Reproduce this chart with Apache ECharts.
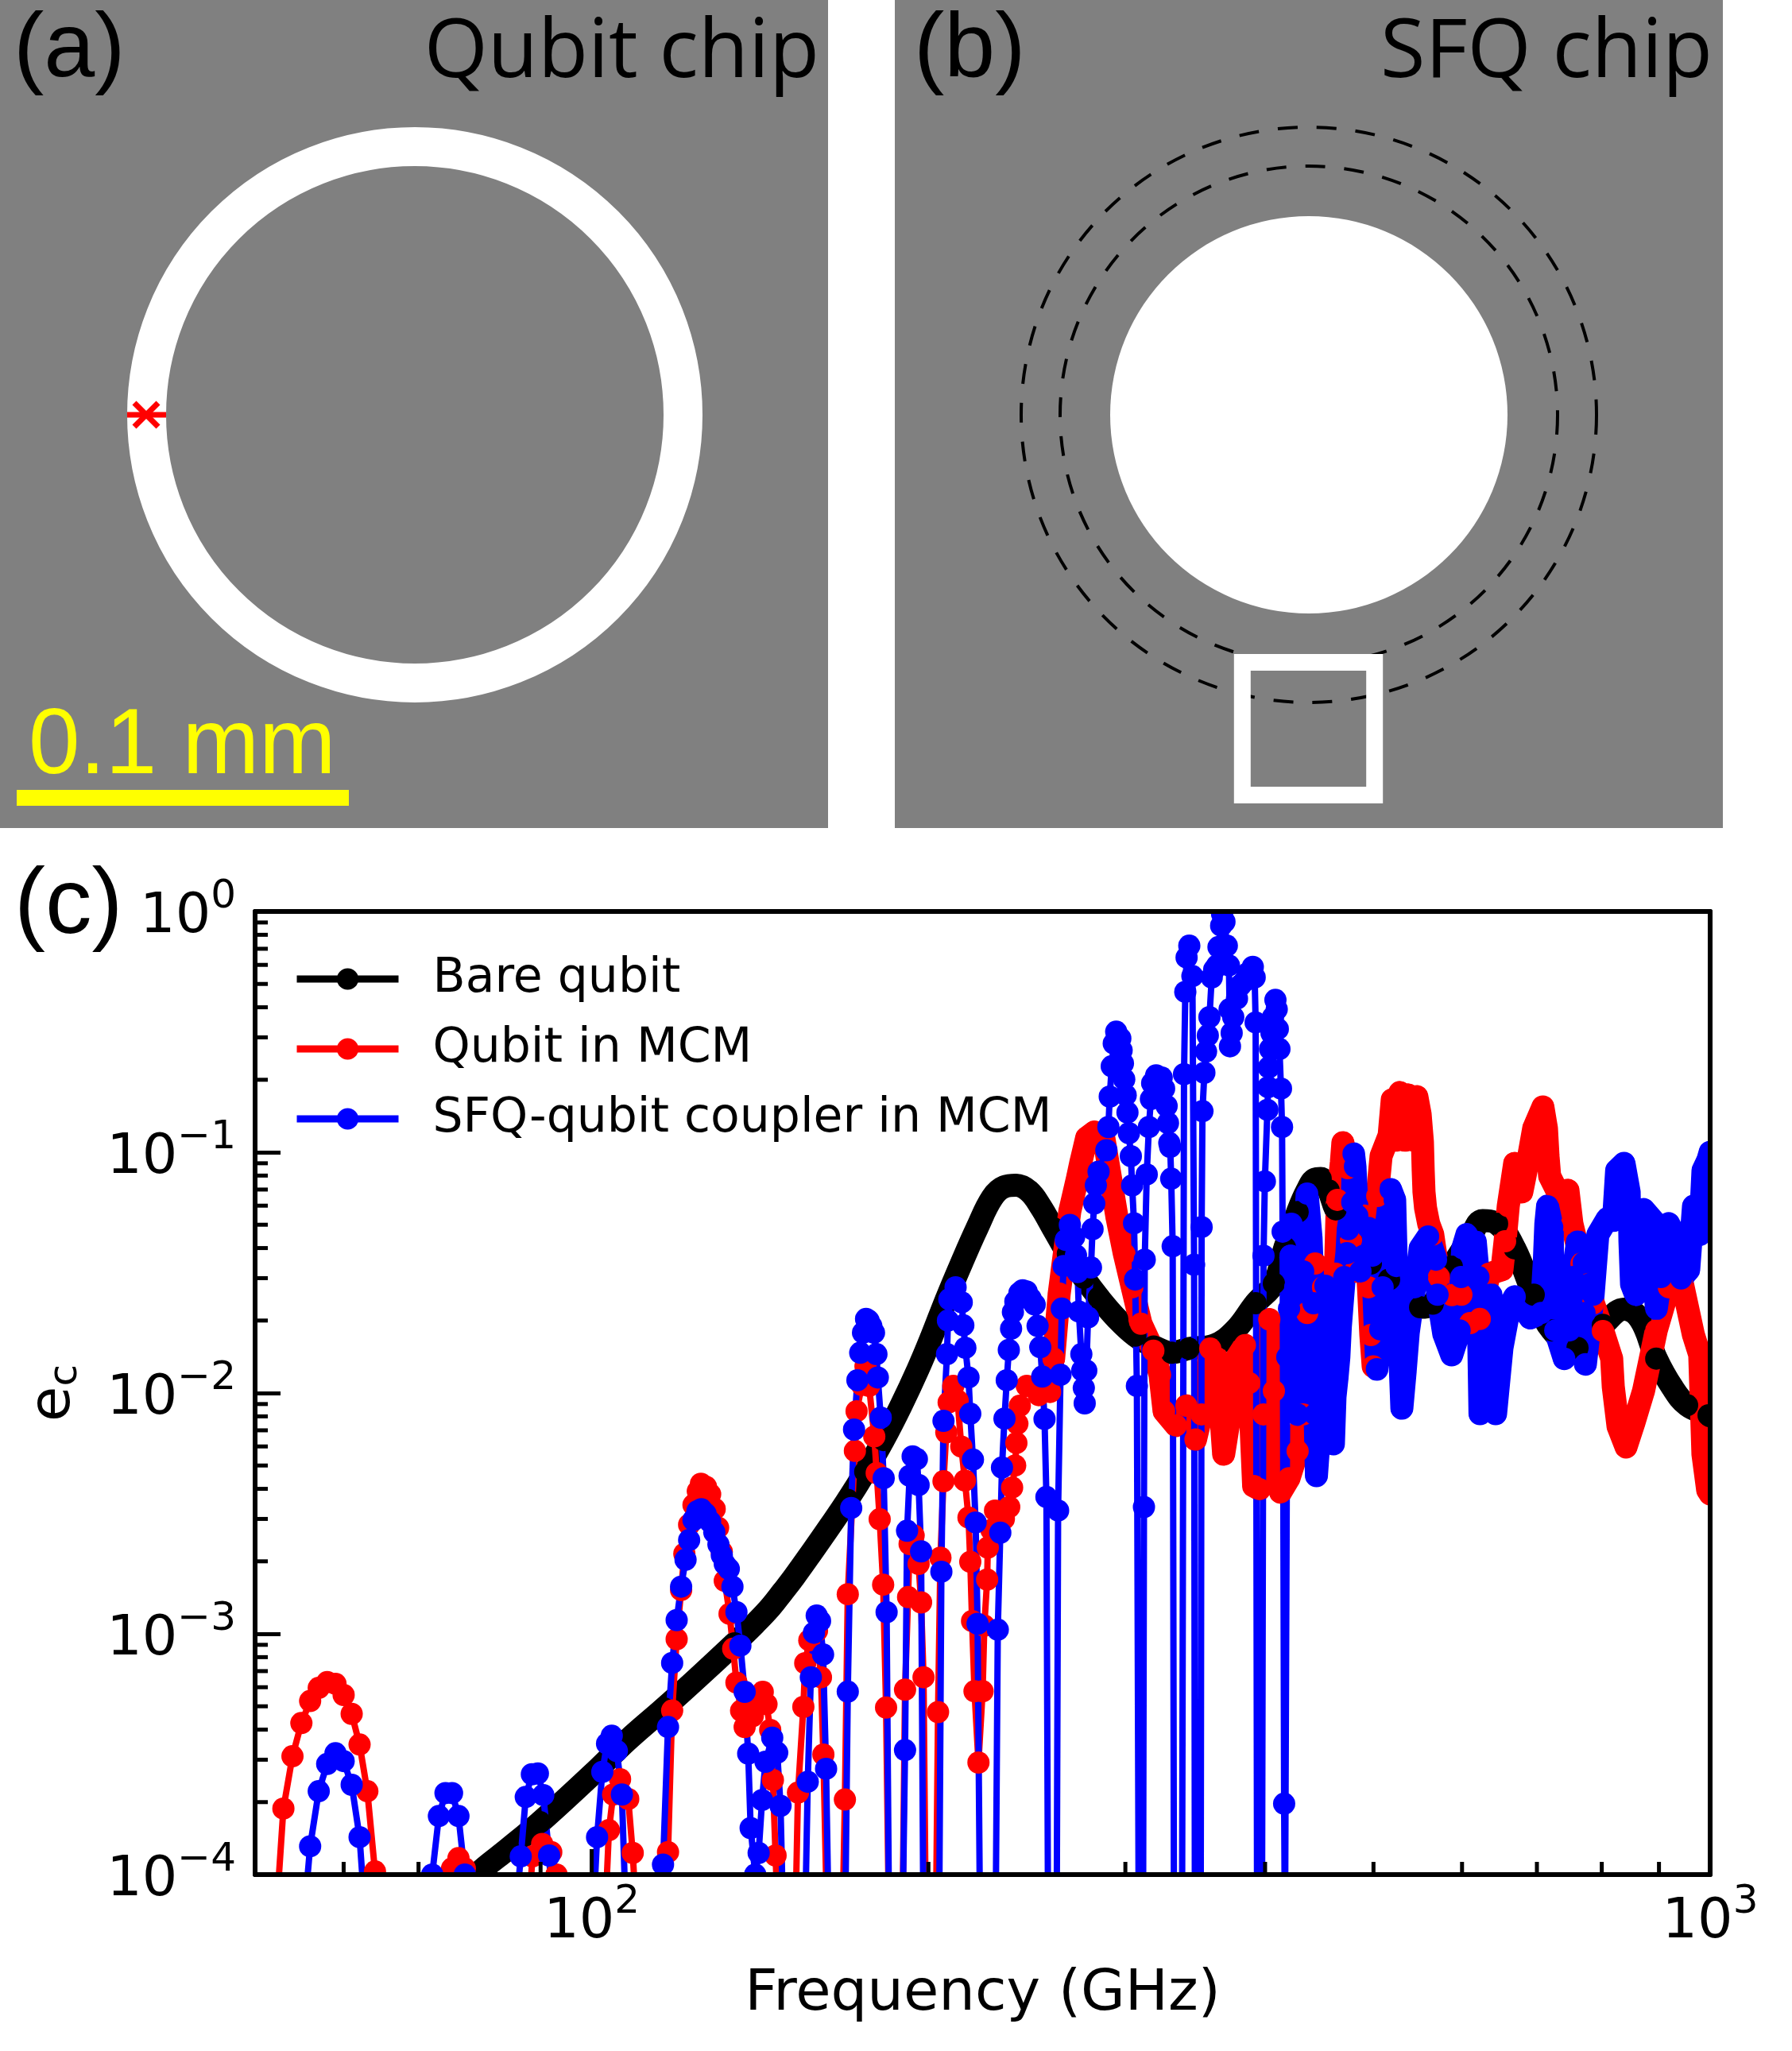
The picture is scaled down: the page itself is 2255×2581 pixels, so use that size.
<!DOCTYPE html>
<html><head><meta charset="utf-8"><title>chart</title>
<style>html,body{margin:0;padding:0;background:#fff}#c{width:2255px;height:2581px}</style>
<script src="https://cdn.jsdelivr.net/npm/echarts@6/dist/echarts.min.js"></script>
</head><body><div id="c"></div>
<script>
const seriesNames = ['Bare qubit','Qubit in MCM','SFQ-qubit coupler in MCM'];
const xMinorTicks = [60,70,80,90,200,300,400,500,600,700,800,900];
const yMinorTicks = [2e-4,3e-4,4e-4,5e-4,6e-4,7e-4,8e-4,9e-4,2e-3,3e-3,4e-3,5e-3,6e-3,7e-3,8e-3,9e-3,2e-2,3e-2,4e-2,5e-2,6e-2,7e-2,8e-2,9e-2,.2,.3,.4,.5,.6,.7,.8,.9];

const bareQubit = [[77.6,9.2e-5],[78.9,1e-4],[80.4,1.08e-4],[84.2,1.28e-4],[89.9,1.65e-4],[100.2,2.62e-4],[107.6,3.61e-4],[116,4.9e-4],[124.7,6.64e-4],[134.2,9.12e-4],[139.9,1.1e-3],[144.5,1.29e-3],[148.1,1.49e-3],[151.8,1.73e-3],[157.4,2.19e-3],[163.4,2.81e-3],[169.4,3.6e-3],[175.6,4.71e-3],[182.3,6.38e-3],[189,8.85e-3],[195.9,1.265e-2],[201.2,1.7e-2],[207.5,2.45e-2],[214.2,3.48e-2],[221.1,4.85e-2],[228.1,6.48e-2],[233.8,7.18e-2],[239.5,7.29e-2],[246,6.89e-2],[252,5.94e-2],[258.4,4.85e-2],[266.5,3.78e-2],[275.4,3.01e-2],[284,2.49e-2],[295,2.03e-2],[306.3,1.73e-2],[318,1.56e-2],[330,1.47e-2],[341.8,1.53e-2],[360.2,1.58e-2],[376.4,1.83e-2],[392.3,2.36e-2],[407.3,2.85e-2],[416.7,4.02e-2],[427.7,5.65e-2],[436.2,6.95e-2],[443.4,7.73e-2],[448.5,7.78e-2],[455.9,6.95e-2],[462.6,5.79e-2],[477.4,4.5e-2],[497.3,3.45e-2],[516.3,2.96e-2],[550.4,2.27e-2],[564.9,2.35e-2],[587.5,3.35e-2],[610,4.4e-2],[626,5.2e-2],[644.9,5.05e-2],[668.6,3.99e-2],[695.4,2.56e-2],[722.1,1.82e-2],[761,1.54e-2],[801.8,1.92e-2],[838,2.23e-2],[866,2.02e-2],[895,1.39e-2],[924.6,1.06e-2],[953.7,8.9e-3],[996.8,8.09e-3],[1000,8e-3]];

const qubitMcmSparse = [[52,5e-5],[53,1.88e-4],[54,3.1e-4],[55,4.26e-4],[56,5.26e-4],[57,5.96e-4],[58,6.3e-4],[59,6.2e-4],[60,5.57e-4],[61,4.65e-4],[62,3.47e-4],[63,2.22e-4],[64,1.03e-4],[65,5e-5],
[74,5e-5],[75,1.06e-4],[76,1.17e-4],[77,1.06e-4],[78,5e-5],
[87.5,5e-5],[88.5,1.19e-4],[90.3,1.34e-4],[92,1.24e-4],[93,1e-4],[94,5e-5],
[102.5,5e-5],[103.6,1.53e-4],[104.5,2.15e-4],[106,2.49e-4],[107.8,2.06e-4],[108.8,1.23e-4],[110,5e-5],
[116,5e-5],[117,1.24e-4],[118,4.8e-4],[119.1,9.5e-4],[120.2,1.52e-3],[121,2.15e-3],[122.2,2.84e-3],[123.3,3.43e-3],[124.4,3.91e-3],[125.2,4.2e-3],[126.5,4.08e-3],[127.6,3.8e-3],[128.8,3.3e-3],[129.7,2.76e-3],[130.7,2.19e-3],[131.5,1.66e-3],[132.8,1.21e-3],[133.8,8.67e-4],[134.7,6.27e-4],[136,4.79e-4],[137,4.1e-4],[139.3,4.55e-4],[140.5,5.41e-4],[142.2,5.74e-4],[143.3,5.1e-4],[144.4,3.99e-4],[145.2,2.47e-4],[146,1.2e-4],[147,5e-5],
[151.9,5e-5],[152.9,2.19e-4],[154.6,4.97e-4],[155.2,7.55e-4],[156.5,9.4e-4],[159,1.03e-3],[160.3,6.6e-4],[161.1,3.15e-4],[162.5,5e-5],
[167.4,5e-5],[168.4,2.05e-4],[169.4,1.46e-3],[171.9,5.75e-3],[172.5,8.4e-3],[174.4,1.08e-2],[175.7,1.29e-2],[177,1.07e-2],[178.9,6.6e-3],[179.8,4.65e-3],[180.9,2.99e-3],[182.2,1.6e-3],[183.3,4.94e-4],[184.5,5e-5],
[189.5,5e-5],[190.6,5.86e-4],[191.8,1.42e-3],[192.4,2.36e-3],[194,2.56e-3],[196,1.95e-3],[197,1.35e-3],[198,6.6e-4],[199,5e-5],
[203,5e-5],[204,4.73e-4],[205,2.07e-3],[206.3,4.3e-3],[207.5,6.86e-3],[208.5,9.14e-3],[210.5,1.07e-2],[212.4,9.3e-3],[214,5.99e-3],[215.6,4.33e-3],[217.2,3.04e-3],[218,1.99e-3],[218.8,1.13e-3],[219.9,5.77e-4],[221.7,2.92e-4],[223.6,5.77e-4],[224.4,1.08e-3],[225.7,1.68e-3],[226,2.28e-3],[227.7,2.7e-3],[229.4,3.25e-3],[233.6,3e-3],[236.2,3.36e-3],[237.6,4.05e-3],[239.1,5e-3],[239.7,6.2e-3],[240.2,7.46e-3],[241.4,8.85e-3],[244.9,1.07e-2],[251,9.8e-3],[256.9,1.01e-2],[258.8,1.39e-2]];

const qubitMcmBand = [[258.8,1.39e-2],[261.8,2.59e-2],[267.6,5.7e-2],[271.9,7.84e-2],[273.7,9.06e-2],[277,.1146],[281.4,.1213],[286.7,.1178],[290.3,8.33e-2],[294.9,5.36e-2],[299.4,3.78e-2],[304.3,2.75e-2],[309.8,1.94e-2],[317.8,1.5e-2],[322.2,1.19e-2],[324.9,8.4e-3],[333,7.33e-3],[340.2,8.85e-3],[346.6,6.41e-3],[350.9,8.15e-3],[357.3,1.53e-2],[361.9,1.4e-2],[364.3,9.48e-3],[367.3,5.57e-3],[372.1,8.15e-3],[377,1.39e-2],[383.7,1.58e-2],[387.1,1.1e-2],[390.7,4.11e-3],[395.4,3.99e-3],[398.7,8.15e-3],[403.5,2.02e-2],[407.3,1.02e-2],[413,3.87e-3],[420.2,4.43e-3],[427.7,5.74e-3],[432.6,8.15e-3],[436.2,2.15e-2],[443.4,3.45e-2],[450.7,2.75e-2],[462.3,3.13e-2],[464.2,6.34e-2],[468,9.06e-2],[469.5,.1096],[474.1,8.59e-2],[477.4,4.33e-2],[481.3,3.2e-2],[490.6,5.45e-2],[494.9,2.75e-2],[497.3,1.74e-2],[499.7,1.29e-2],[503.9,6.58e-2],[507.9,9.64e-2],[516.4,.1175],[519.7,.1652],[524.1,.1122],[527.9,.177],[533.6,.1122],[537,.173],[542.2,.1122],[546.7,.1702],[550.4,.1439],[553,.1104],[553.9,8.39e-2],[554.8,6.84e-2],[556.6,5.87e-2],[560.2,5.05e-2],[564.9,4.55e-2],[572.2,3.03e-2],[587.5,2.55e-2],[599.2,2.56e-2],[610,1.95e-2],[622.3,2.03e-2],[634.5,3.13e-2],[651.4,3.25e-2],[655.6,4.27e-2],[659.9,5.97e-2],[668.7,8.99e-2],[678.6,6.84e-2],[685.3,8.59e-2],[695.4,.1256],[708.7,.1542],[713.9,.1256],[716.2,9.64e-2],[718.6,7.96e-2],[730.4,6.84e-2],[746.2,6.95e-2],[752.3,5.05e-2],[767.3,3.45e-2],[786.3,2.36e-2],[801.8,1.81e-2],[816.5,1.39e-2],[819.2,1.06e-2],[827.3,7.27e-3],[841,5.97e-3],[854.9,7.55e-3],[871.8,1.02e-2],[895,1.82e-2],[918.6,2.75e-2],[942.8,2.96e-2],[966,1.75e-2],[978.8,1.44e-2],[985.3,5.57e-3],[995,3.95e-3],[1000,3.81e-3]];

const couplerSparse = [[55,5e-5],[56,1.31e-4],[57,2.22e-4],[58,2.88e-4],[59,3.19e-4],[60,2.96e-4],[61,2.36e-4],[62,1.43e-4],[63,5e-5],
[71,5e-5],[72,1e-4],[73,1.75e-4],[74,2.18e-4],[75,2.18e-4],[76,1.75e-4],[77,1e-4],[78,5e-5],
[85,5e-5],[86.4,1.19e-4],[87.3,2.1e-4],[88.4,2.61e-4],[89.5,2.63e-4],[90.5,2.14e-4],[91.6,1.2e-4],[92.6,5e-5],
[100,5e-5],[101.1,1.43e-4],[102.2,2.67e-4],[103.2,3.5e-4],[104.2,3.77e-4],[105.3,3.26e-4],[106.4,2.15e-4],[107.5,5e-5],
[114.8,5e-5],[115.8,1.1e-4],[117,4.1e-4],[118,7.57e-4],[119.1,1.14e-3],[120.2,1.57e-3],[121.3,2.03e-3],[122.2,2.45e-3],[123.3,2.97e-3],[124.3,3.23e-3],[125.3,3.29e-3],[126.4,3.15e-3],[127.6,2.92e-3],[128.7,2.64e-3],[129.8,2.35e-3],[130.7,2.12e-3],[131.5,1.95e-3],[132.6,1.86e-3],[133.6,1.57e-3],[134.7,1.23e-3],[135.8,8.93e-4],[137,5.74e-4],[138,3.18e-4],[138.7,1.56e-4],[140,1e-4],[141,1.23e-4],[142,2.04e-4],[143,2.94e-4],[145,3.7e-4],[146.5,3.21e-4],[147.5,1.93e-4],[148.5,5e-5],
[155,5e-5],[156,2.43e-4],[157,6.6e-4],[158,1.01e-3],[158.9,1.19e-3],[160,1.13e-3],[161,8.2e-4],[162,2.75e-4],[163,5e-5],
[168.4,5e-5],[169.4,5.75e-4],[170.6,3.33e-3],[171.6,7.05e-3],[172.8,1.13e-2],[173.8,1.47e-2],[174.8,1.78e-2],[175.9,2.03e-2],[176.8,2e-2],[177.8,1.9e-2],[178.8,1.78e-2],[179.7,1.45e-2],[180.2,1.16e-2],[181.3,7.9e-3],[182.4,4.43e-3],[183.5,1.23e-3],[184.5,5e-5],
[189.5,5e-5],[190.6,3.29e-4],[191.4,2.68e-3],[192.4,4.53e-3],[193.6,5.46e-3],[195.3,5.32e-3],[196,4.15e-3],[197,2.2e-3],[198,5e-5],
[204.4,5e-5],[205.4,1.81e-3],[206.3,7.66e-3],[207.8,1.45e-2],[208.2,2e-2],[208.8,2.45e-2],[211.5,2.75e-2],[214.2,2.38e-2],[214.9,1.91e-2],[215.8,1.54e-2],[217.2,1.16e-2],[218,8.2e-3],[219.2,5.29e-3],[220.4,2.9e-3],[221.3,1.1e-3],[222.5,5e-5],
[229.6,5e-5],[230.7,1.04e-3],[231.9,2.63e-3],[232.7,4.9e-3],[233.9,7.83e-3],[235,1.13e-2],[236,1.51e-2],[237.1,1.85e-2],[238,2.17e-2],[239.2,2.4e-2],[241.2,2.6e-2],[242.8,2.67e-2],[244.8,2.64e-2],[246.8,2.47e-2],[248.9,2.33e-2],[250.4,1.9e-2],[251.8,1.55e-2],[252.8,1.17e-2],[254,7.8e-3],[255,3.7e-3],[255.9,5e-5],
[260.4,5e-5],[261.2,3.25e-3],[262.5,1.19e-2],[263.2,2.24e-2],[264.2,3.37e-2],[265.4,4.32e-2],[267.6,4.99e-2],[270,4.45e-2],[271,3.73e-2],[271.9,3.18e-2],[272.6,2.18e-2],[274,1.45e-2],[274.5,1.24e-2],[275.4,1.05e-2],[275.9,9.06e-3],[276.8,1.24e-2],[277.8,2.06e-2],[279.5,3.32e-2],[280.4,4.79e-2],[281.4,6.12e-2],[282.3,7.29e-2],[283.9,8.3e-2],[288.5,.1019],[289.7,.1273],[290.5,.1702],[291.7,.2276],[292.9,.2831],[294.4,.3167],[296.9,.2972],[297.7,.2649],[298.5,.2339],[299.3,.2009],[300.2,.1726],[301.3,.1462],[302.2,.12],[303.4,9.63e-2],[304.2,7.28e-2],[305.4,5.07e-2],[306.1,2.96e-2],[307.2,1.07e-2],[308.4,5e-5],
[311.1,5e-5],[311.7,3.36e-3],[312.2,3.58e-2],[313.5,8.09e-2],[314.9,.1273],[316.2,.1663],[317,.1936],[319.6,.2084],[323.3,.2042],[324.9,.1837],[326.6,.1557],[327.5,.1322],[328.4,.1093],[329,.1052],[329.7,7.76e-2],[330.7,4.07e-2],[331.6,5e-5],
[337.1,5e-5],[338.5,.211],[339.4,.4634],[340.3,.644],[342.2,.721],[344.4,.539],[345.6,3.41e-2],[346.2,5e-5],
[350.3,5e-5],[351,4.89e-2],[351.6,.1481],[353,.2138],[354.2,.2618],[355.5,.3055],[356.7,.3639],[358.4,.5321],[360.2,.5741],[362.4,.597],[363.4,.7112],[365.4,.8727],[366.1,.977],[367.9,.906],[369.7,.721],[371.3,.597],[371.8,.3926],[372.1,.2754],[373.4,.3126],[374.6,.3639],[377.5,.4345],[380.2,.4932],[383.3,.5129],[385.8,.5528],[390,.5888],[391.5,.5321],[392.3,.3459],[393.5,5e-5],
[397.4,5e-5],[398.7,3.72e-2],[399.8,7.57e-2],[401.9,.15],[402.5,.1862],[403,.225],[404.1,.2685],[405.3,.3126],[406.6,.3639],[408.6,.4292],[409.7,.3926],[410.6,.325],[412,.2685],[413.3,.1837],[414.2,.1273],[414.7,4.68e-2],[416,1.97e-4],[416.7,5e-5],
[417.7,5e-5],[418.7,1.41e-2],[420.2,2.24e-2],[421.6,3.72e-2]];

const couplerBand = [[421.6,3.72e-2],[422.3,.0505],[425.6,.0275],[427.7,.00815],[430.6,.015],[432.6,.032],[436.2,.0673],[439.7,.044],[441.9,.0236],[443.4,.00815],[444.6,.00454],[447,.00649],[450.7,.015],[452.9,.0279],[455.9,.0236],[460.4,.00615],[461.9,.00963],[463.9,.01164],[465.6,.0141],[467,.0188],[470.8,.0303],[473.4,.0381],[474.7,.0479],[478.6,.062],[479.9,.0985],[481.3,.0872],[483.6,.0545],[486.8,.032],[490,.0372],[494.9,.0485],[498.9,.0372],[503.5,.01256],[507,.01837],[509.5,.0275],[513.7,.0505],[518,.07],[522.3,.0634],[524.1,.0337],[526.7,.0207],[528.4,.01285],[530.1,.00865],[533.6,.01219],[537.1,.01782],[544.2,.0275],[547,.0303],[550.4,.0399],[559.5,.0447],[568.7,.0358],[570.5,.0256],[577.9,.0176],[587.4,.0144],[597,.0182],[598.9,.0303],[600.9,.0399],[606,.0455],[616.6,.0425],[620.6,.0303],[621.2,.0154],[622.6,.0082],[630.8,.0154],[636.8,.0256],[640.8,.0154],[642.9,.0082],[651.4,.0154],[662.1,.0231],[668.7,.0251],[690.4,.0205],[706.3,.0215],[710.7,.0348],[713,.0505],[715.5,.0597],[722.4,.0488],[723.2,.0303],[727,.0182],[740.5,.0139],[748.5,.0182],[753.5,.0303],[760.9,.0425],[770.9,.0348],[772.1,.0215],[773.5,.01318],[785.9,.0256],[793.6,.0455],[809.1,.053],[819.6,.0521],[824.9,.084],[837.5,.0899],[846.4,.0684],[847.8,.0425],[850.6,.0283],[857.7,.0256],[861.9,.0425],[871.9,.0578],[889.1,.0521],[892,.0303],[895,.0224],[903.6,.0303],[909.5,.0455],[918.1,.0505],[936.1,.0425],[937.3,.0325],[941.9,.0299],[956.8,.0325],[966.3,.0597],[979,.0455],[985.4,.084],[995.3,.0927],[1000,.1]];

const X_MIN = 50, X_MAX = 1000, Y_MIN = 1e-4, Y_MAX = 1;
const FONT = 'DejaVu Sans';
const SANS = 'Liberation Sans';
const CHIP = 'Open Sans';

function powerLabel(v){
  const n = Math.log10(v), r = Math.round(n);
  if (Math.abs(n - r) > 1e-6) return '';
  return '{n|10}{e|' + (r < 0 ? '\u2212' + (-r) : r) + '}';
}
const labelRich = {
  n:{fontFamily:FONT,fontSize:70,color:'#000',lineHeight:86,verticalAlign:'bottom'},
  e:{fontFamily:FONT,fontSize:50,color:'#000',lineHeight:60,verticalAlign:'top'}
};
function lineSeries(name, data, color, width, size, smooth){
  return {type:'line',name,data,smooth:smooth||false,clip:true,showSymbol:true,showAllSymbol:true,symbol:'circle',symbolSize:size,
    itemStyle:{color},lineStyle:{color,width,cap:'round',join:'round'},emphasis:{disabled:true},silent:true,animation:false,z:2};
}
function tickSeries(points, axis){
  return {type:'custom',silent:true,data:points,clip:false,z:6,animation:false,
    renderItem(params, api){
      const p = api.coord([api.value(0), api.value(1)]);
      const len = 16;
      const shape = axis==='x' ? {x1:p[0],y1:p[1],x2:p[0],y2:p[1]-len} : {x1:p[0],y1:p[1],x2:p[0]+len,y2:p[1]};
      return {type:'line',shape,style:{stroke:'#000',lineWidth:5}};
    }};
}
function txt(text,x,y,font,fill,align){
  return {type:'text',z:8,style:{text,x,y,font,fill,textAlign:align||'left',textVerticalAlign:'middle'}};
}
function panel(x){ return {type:'rect',z:1,shape:{x,y:0,width:1042,height:1042},style:{fill:'#808080'}}; }

const dashed = {stroke:'#000',fill:'none',lineWidth:4,lineDash:[25,24]};
const graphic = [
  panel(0),panel(1126),
  {type:'circle',z:2,shape:{cx:522,cy:522,r:337.5},style:{fill:'none',stroke:'#fff',lineWidth:49}},
  {type:'line',z:3,shape:{x1:160,y1:522,x2:209,y2:522},style:{stroke:'#f00',lineWidth:7}},
  {type:'line',z:3,shape:{x1:169,y1:507,x2:199,y2:537},style:{stroke:'#f00',lineWidth:7}},
  {type:'line',z:3,shape:{x1:199,y1:507,x2:169,y2:537},style:{stroke:'#f00',lineWidth:7}},
  {type:'rect',z:3,shape:{x:21,y:994,width:418,height:20},style:{fill:'#ff0'}},
  {type:'circle',z:2,shape:{cx:1647,cy:522,r:250},style:{fill:'#fff'}},
  {type:'circle',z:2,shape:{cx:1647,cy:522,r:362},style:dashed},
  {type:'circle',z:2,shape:{cx:1647,cy:522,r:313},style:dashed},
  {type:'rect',z:3,shape:{x:1563.3,y:833.5,width:166.4,height:167},style:{fill:'none',stroke:'#fff',lineWidth:21}},
  txt('(a)',17,64,'115px "'+SANS+'"','#000'),
  txt('Qubit chip',1031,68,'103px "'+CHIP+'"','#000','right'),
  txt('0.1 mm',36,941,'116px "'+SANS+'"','#ff0'),
  txt('(b)',1150,64,'115px "'+SANS+'"','#000'),
  txt('SFQ chip',2155,68,'103px "'+CHIP+'"','#000','right'),
  txt('(c)',18,1142,'117px "'+SANS+'"','#000'),
  // white masks trim the round markers at the frame, as the plot's clip box does
  {type:'rect',z:4,shape:{x:300,y:2362,width:1870,height:12},style:{fill:'#fff'}},
  {type:'rect',z:4,shape:{x:300,y:1130,width:1870,height:15},style:{fill:'#fff'}},
  {type:'rect',z:4,shape:{x:2154,y:1130,width:20,height:1244},style:{fill:'#fff'}}
];
const spine = {show:true,onZero:false,lineStyle:{color:'#000',width:6}};
const chart = echarts.init(document.getElementById('c'),null,{renderer:'canvas'});
chart.setOption({
  animation:false,backgroundColor:'#fff',
  graphic,
  grid:{left:321,top:1147,width:1831,height:1212,containLabel:false,outerBoundsMode:'none'},
  legend:{show:true,data:seriesNames,left:369,top:1202,padding:0,orient:'vertical',itemWidth:128,itemHeight:34,itemGap:28,symbolSize:27,
    lineStyle:{width:9,cap:'butt'},textStyle:{fontFamily:FONT,fontSize:60,color:'#000',padding:[0,0,0,38]},selectedMode:false,z:6},
  xAxis:[{type:'log',logBase:10,min:X_MIN,max:X_MAX,z:5,axisLine:spine,splitLine:{show:false},minorTick:{show:false},minorSplitLine:{show:false},
    axisTick:{show:true,inside:true,length:32,lineStyle:{color:'#000',width:5}},
    axisLabel:{formatter:powerLabel,rich:labelRich,margin:10,showMinLabel:true,showMaxLabel:true,hideOverlap:false},
    name:'Frequency (GHz)',nameLocation:'middle',nameGap:115,nameTextStyle:{fontFamily:FONT,fontSize:72,color:'#000'}},
   {type:'log',logBase:10,min:X_MIN,max:X_MAX,position:'top',z:5,axisLine:spine,axisTick:{show:false},axisLabel:{show:false},splitLine:{show:false}}],
  yAxis:[{type:'log',logBase:10,min:Y_MIN,max:Y_MAX,z:5,axisLine:spine,splitLine:{show:false},minorTick:{show:false},minorSplitLine:{show:false},
    axisTick:{show:true,inside:true,length:32,lineStyle:{color:'#000',width:5}},
    axisLabel:{formatter:powerLabel,rich:labelRich,margin:24,showMinLabel:true,showMaxLabel:true,hideOverlap:false},
    name:'{a|e}{b|c}',nameLocation:'middle',nameGap:213,nameRotate:90,
    nameTextStyle:{rich:{a:{fontFamily:FONT,fontSize:72,color:'#000',lineHeight:80,verticalAlign:'middle'},b:{fontFamily:FONT,fontSize:50,color:'#000',lineHeight:80,verticalAlign:'bottom'}}}},
   {type:'log',logBase:10,min:Y_MIN,max:Y_MAX,position:'right',z:5,axisLine:spine,axisTick:{show:false},axisLabel:{show:false},splitLine:{show:false}}],
  tooltip:{show:false},
  series:[
    lineSeries(seriesNames[0],bareQubit,'#000',29,28,0.4),
    lineSeries(seriesNames[1],qubitMcmSparse,'#f00',8,28),
    lineSeries(seriesNames[1],qubitMcmBand,'#f00',29,28),
    lineSeries(seriesNames[2],couplerSparse,'#00f',8,28),
    lineSeries(seriesNames[2],couplerBand,'#00f',29,28),
    tickSeries(xMinorTicks.map(v=>[v,Y_MIN]),'x'),
    tickSeries(yMinorTicks.map(v=>[X_MIN,v]),'y')
  ]
});
</script></body></html>
